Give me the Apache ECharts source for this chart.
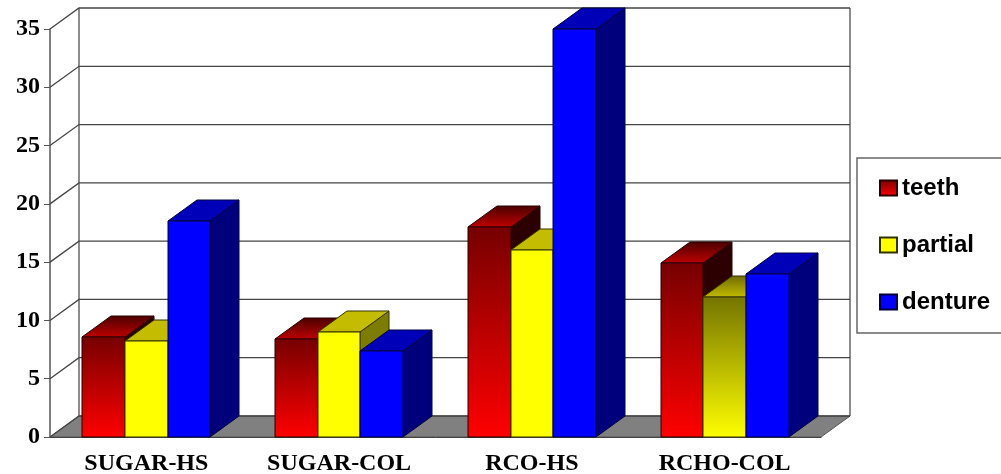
<!DOCTYPE html>
<html>
<head>
<meta charset="utf-8">
<title>chart</title>
<script src="https://cdn.jsdelivr.net/npm/echarts@6/dist/echarts.min.js"></script>
<style>
  html, body { margin: 0; padding: 0; background: #fff; }
  #main { width: 1001px; height: 474px; }
</style>
</head>
<body>
<div id="main"></div>
<script>
const categories = ['SUGAR-HS', 'SUGAR-COL', 'RCO-HS', 'RCHO-COL']
const teeth = [8.55, 8.4, 18.0, 14.95]
const partial = [8.2, 9.0, 16.0, 12.0]
const denture = [18.5, 7.4, 35.0, 13.95]
const yTicks = [0, 5, 10, 15, 20, 25, 30, 35]

// depth of the fake 3D box, in pixels
const DX = 29
const DY = 21
const BAR_RATIO = 0.2215

const grad = (x, y, x2, y2, a, b) => new echarts.graphic.LinearGradient(x, y, x2, y2, [
  { offset: 0, color: a },
  { offset: 1, color: b }
])

// colours of each series: front face, top face, side face, edge
function faces(name, cat) {
  if (name === 'teeth') {
    return {
      front: grad(0, 0, 0, 1, '#760000', '#ff0000'),
      top: grad(0, 1, 0, 0, '#c00000', '#4a0000'),
      side: '#2c0000',
      edge: '#2a0000'
    }
  }
  if (name === 'partial') {
    // only the last group shades its yellow
    if (cat === 3) {
      return {
        front: grad(0, 0, 0, 1, '#747400', '#ffff00'),
        top: grad(0, 1, 0, 0, '#c4bc00', '#6e6a00'),
        side: '#5a5a00',
        edge: '#333300'
      }
    }
    return { front: '#ffff00', top: '#c4bc00', side: '#7c7c00', edge: '#333300' }
  }
  return { front: '#0000ff', top: '#0000b8', side: '#00007c', edge: '#000040' }
}

function barSeries(name, values, idx) {
  return {
    name: name,
    type: 'custom',
    z: 5 + idx,
    itemStyle: { color: faces(name, 0).front, borderColor: faces(name, 0).edge, borderWidth: 1 },
    data: values.map((v, i) => [i, v]),
    renderItem: function (params, api) {
      const cat = api.value(0)
      const top = api.coord([cat, api.value(1)])
      const base = api.coord([cat, 0])
      const w = api.size([1, 0])[0] * BAR_RATIO
      const x0 = Math.round(top[0] + (idx - 1.5) * w)
      const x1 = Math.round(top[0] + (idx - 0.5) * w)
      const yT = Math.round(top[1])
      const yB = Math.round(base[1])
      const f = faces(name, cat)
      const lineStyle = { stroke: f.edge, lineWidth: 1 }
      return {
        type: 'group',
        children: [
          {
            type: 'polygon',
            shape: { points: [[x1, yB], [x1 + DX, yB - DY], [x1 + DX, yT - DY], [x1, yT]] },
            style: Object.assign({ fill: f.side }, lineStyle)
          },
          {
            type: 'polygon',
            shape: { points: [[x0, yT], [x1, yT], [x1 + DX, yT - DY], [x0 + DX, yT - DY]] },
            style: Object.assign({ fill: f.top }, lineStyle)
          },
          {
            type: 'rect',
            shape: { x: x0, y: yT, width: x1 - x0, height: yB - yT },
            style: Object.assign({ fill: f.front }, lineStyle)
          }
        ]
      }
    }
  }
}

const chart = echarts.init(document.getElementById('main'), null, { renderer: 'canvas' })

chart.setOption({
  animation: false,
  backgroundColor: '#fff',
  grid: { left: 50, right: 180, top: 29, bottom: 37, outerBoundsMode: 'none' },
  legend: {
    orient: 'vertical',
    left: 857,
    top: 158,
    padding: [18, 80, 19, 22],
    itemGap: 33,
    itemWidth: 17,
    itemHeight: 15,
    icon: 'rect',
    backgroundColor: '#fff',
    borderColor: '#666',
    borderWidth: 1.5,
    selectedMode: false,
    data: ['teeth', 'partial', 'denture'],
    textStyle: {
      fontFamily: 'Liberation Sans',
      fontWeight: 'bold',
      fontSize: 24,
      lineHeight: 24,
      color: '#000'
    }
  },
  xAxis: {
    type: 'category',
    data: categories,
    axisLine: { lineStyle: { color: '#333', width: 1 } },
    axisTick: { length: 6, lineStyle: { color: '#555' } },
    axisLabel: {
      margin: 15,
      color: '#000',
      fontFamily: 'Liberation Serif',
      fontWeight: 'bold',
      fontSize: 24
    }
  },
  yAxis: {
    type: 'value',
    min: 0,
    max: 35,
    interval: 5,
    axisLine: { show: true, lineStyle: { color: '#555', width: 1.5 } },
    axisTick: { show: true, length: 6, lineStyle: { color: '#555' } },
    splitLine: { show: false },
    axisLabel: {
      margin: 10,
      padding: [6, 0, 0, 0],
      color: '#000',
      fontFamily: 'Liberation Serif',
      fontWeight: 'bold',
      fontSize: 24
    }
  },
  series: [
    {
      // floor and back wall gridlines
      name: 'walls',
      type: 'custom',
      z: 1,
      silent: true,
      data: yTicks.map(v => [0, v]),
      renderItem: function (params, api) {
        const y = api.coord([0, api.value(1)])[1]
        const box = params.coordSys
        const left = box.x
        const right = box.x + box.width
        const children = [
          {
            type: 'polyline',
            shape: { points: [[left, y], [left + DX, y - DY], [right + DX, y - DY]] },
            style: { fill: null, stroke: '#444', lineWidth: 1.3 }
          }
        ]
        if (api.value(1) === 0) {
          children.unshift(
            {
              type: 'polygon',
              shape: { points: [[left, y], [right, y], [right + DX, y - DY], [left + DX, y - DY]] },
              style: { fill: '#808080', stroke: '#555', lineWidth: 1 }
            },
            {
              type: 'polyline',
              shape: { points: [[left + DX, y - DY], [left + DX, box.y - DY]] },
              style: { fill: null, stroke: '#666', lineWidth: 1.5 }
            },
            {
              type: 'polyline',
              shape: { points: [[right + DX, y - DY], [right + DX, box.y - DY]] },
              style: { fill: null, stroke: '#666', lineWidth: 1.5 }
            }
          )
        }
        return { type: 'group', children: children }
      }
    },
    barSeries('teeth', teeth, 0),
    barSeries('partial', partial, 1),
    barSeries('denture', denture, 2)
  ]
})
</script>
</body>
</html>
